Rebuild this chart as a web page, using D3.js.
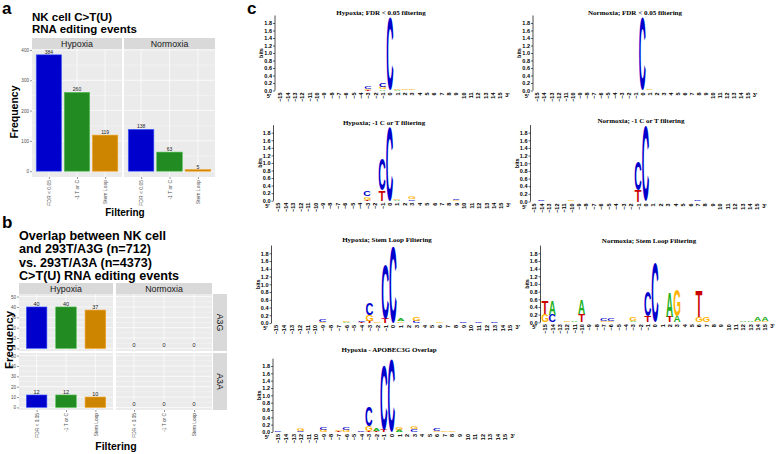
<!DOCTYPE html>
<html><head><meta charset="utf-8">
<script src="https://cdn.jsdelivr.net/npm/d3@7"></script>
<style>body{margin:0;background:#fff}svg{display:block}</style>
</head><body>
<svg id="chart" width="777" height="454"></svg>
<script>
// ---------------- DATA ----------------
const filters = ["FDR < 0.05", "-1 T or C", "Stem Loop"];
const conditions = ["Hypoxia", "Normoxia"];
const nkHypoxia = [384, 260, 119];
const nkNormoxia = [138, 63, 5];
const overlapRows = ["A3G", "A3A"];
const a3gHypoxia = [40, 40, 37];
const a3gNormoxia = [0, 0, 0];
const a3aHypoxia = [12, 12, 10];
const a3aNormoxia = [0, 0, 0];
const nkTicks = [0, 100, 200, 300, 400];
const nkMinor = [50, 150, 250, 350];
const overlapTicks = [0, 10, 20, 30, 40, 50];
const overlapMinor = [5, 15, 25, 35, 45];
const logoPositions = [-15,-14,-13,-12,-11,-10,-9,-8,-7,-6,-5,-4,-3,-2,-1,0,1,2,3,4,5,6,7,8,9,10,11,12,13,14,15];
const bitTicks = [0.0,0.2,0.4,0.6,0.8,1.0,1.2,1.4,1.6,1.8];
const logoTitles = ["Hypoxia; FDR < 0.05 filtering", "Normoxia; FDR < 0.05 filtering",
  "Hypoxia; -1 C or T filtering", "Normoxia; -1 C or T filtering",
  "Hypoxia; Stem Loop Filtering", "Normoxia; Stem Loop Filtering",
  "Hypoxia - APOBEC3G Overlap"];
// [position, base, bits] ; bottom-to-top inside each position
const logoHypFDR = [[-3,"T",0.02],[-3,"G",0.03],[-3,"C",0.07],[-1,"A",0.03],[-1,"G",0.05],[-1,"C",0.1],
  [0,"C",1.93],[1,"A",0.02],[1,"G",0.04],[2,"G",0.02],[3,"G",0.02]];
const logoNorFDR = [[0,"C",1.93],[1,"G",0.02]];
const logoHypCT = [[-3,"T",0.03],[-3,"G",0.08],[-3,"C",0.12],[-1,"T",0.28],[-1,"C",0.84],[0,"C",1.96],
  [1,"A",0.02],[1,"G",0.04],[3,"C",0.04],[3,"G",0.05],[9,"G",0.02],[9,"C",0.03]];
const logoNorCT = [[-14,"C",0.02],[-10,"G",0.02],[-1,"T",0.3],[-1,"C",0.77],[0,"C",1.97],[7,"C",0.02]];
const logoHypSL = [[-9,"G",0.02],[-9,"C",0.05],[-6,"A",0.02],[-6,"G",0.04],[-4,"T",0.02],[-4,"C",0.04],
  [-3,"T",0.05],[-3,"G",0.15],[-3,"C",0.3],[-2,"G",0.02],[-1,"T",0.12],[-1,"C",1.4],[0,"C",1.97],
  [1,"G",0.04],[1,"A",0.07],[3,"C",0.06],[3,"G",0.11],[5,"G",0.01],[6,"G",0.03],[9,"C",0.04],[11,"C",0.02],[13,"C",0.03]];
const logoNorSL = [[-15,"G",0.21],[-15,"T",0.35],[-14,"C",0.19],[-14,"A",0.37],[-12,"G",0.02],[-11,"A",0.02],
  [-10,"T",0.21],[-10,"A",0.37],[-7,"G",0.02],[-7,"C",0.08],[-6,"G",0.02],[-6,"C",0.08],[-3,"A",0.03],[-3,"G",0.1],
  [-1,"T",0.15],[-1,"C",0.65],[0,"C",1.54],[2,"T",0.15],[2,"A",0.65],[3,"A",0.15],[3,"G",0.69],
  [6,"G",0.15],[6,"T",0.67],[7,"G",0.13],[12,"A",0.02],[13,"A",0.02],[14,"G",0.03],[14,"A",0.1],[15,"G",0.03],[15,"A",0.1]];
const logoHypA3G = [[-15,"C",0.02],[-12,"C",0.04],[-12,"G",0.06],[-9,"G",0.05],[-9,"C",0.06],[-7,"T",0.02],[-7,"G",0.04],
  [-6,"G",0.05],[-6,"C",0.06],[-4,"C",0.04],[-3,"T",0.03],[-3,"G",0.13],[-3,"C",0.55],[-2,"T",0.02],[-2,"A",0.06],
  [-1,"T",0.05],[-1,"C",1.75],[0,"C",1.98],[1,"A",0.05],[1,"G",0.06],[3,"C",0.07],[3,"G",0.08],
  [6,"G",0.04],[6,"C",0.05],[7,"G",0.04],[8,"G",0.04]];

// ---------------- STYLE ----------------
const SANS = "'Liberation Sans', Arial, Helvetica, sans-serif";
const SERIF = "'Liberation Serif', 'Times New Roman', serif";
const barFill = {"FDR < 0.05": "#0000CD", "-1 T or C": "#228B22", "Stem Loop": "#CD8500"};
const barStroke = {"FDR < 0.05": "#4060ff", "-1 T or C": "#50c050", "Stem Loop": "#f0a020"};
const baseColor = {A: "#21b021", C: "#0000cc", G: "#ffb300", T: "#cc0000"};

const svg = d3.select("#chart");

function txt(x, y, s, size, opts = {}) {
  const t = svg.append("text").attr("x", x).attr("y", y).text(s)
    .attr("font-family", opts.family || SANS).attr("font-size", size)
    .attr("font-weight", opts.weight || "normal").attr("fill", opts.fill || "#000")
    .attr("text-anchor", opts.anchor || "start");
  if (opts.rotate !== undefined) t.attr("transform", `rotate(${opts.rotate},${x},${y})`);
  return t;
}

// ggplot-like facet panel
function barFacet(o) {
  const x = d3.scalePoint().domain(filters).range([o.x0, o.x1]).padding(0.6);
  const g = svg.append("g");
  g.append("rect").attr("x", o.x0).attr("y", o.yTop).attr("width", o.x1 - o.x0)
    .attr("height", o.yBot - o.yTop).attr("fill", "#EBEBEB");
  g.selectAll(".mi").data(o.minor).join("line")
    .attr("x1", o.x0).attr("x2", o.x1).attr("y1", d => o.y(d)).attr("y2", d => o.y(d))
    .attr("stroke", "#fff").attr("stroke-width", 0.35);
  g.selectAll(".ma").data(o.major).join("line")
    .attr("x1", o.x0).attr("x2", o.x1).attr("y1", d => o.y(d)).attr("y2", d => o.y(d))
    .attr("stroke", "#fff").attr("stroke-width", 0.7);
  g.selectAll(".vx").data(filters).join("line")
    .attr("x1", d => x(d)).attr("x2", d => x(d)).attr("y1", o.yTop).attr("y2", o.yBot)
    .attr("stroke", "#fff").attr("stroke-width", 0.7);
  const bw = x.step() * o.width;
  const data = filters.map((f, i) => ({f, v: o.vals[i]}));
  g.selectAll(".bar").data(data.filter(d => d.v > 0)).join("rect")
    .attr("x", d => x(d.f) - bw / 2).attr("y", d => o.y(d.v))
    .attr("width", bw).attr("height", d => o.y(0) - o.y(d.v))
    .attr("fill", d => barFill[d.f]).attr("stroke", d => barStroke[d.f]).attr("stroke-width", 0.6);
  g.selectAll(".lab").data(data).join("text")
    .attr("x", d => x(d.f)).attr("y", d => o.y(d.v) - 1).text(d => d.v)
    .attr("text-anchor", "middle").attr("font-family", SANS).attr("font-size", o.labSize).attr("fill", "#222");
  return x;
}

function yAxis(y, x0, ticks, size) {
  const ax = svg.append("g").attr("transform", `translate(${x0},0)`)
    .call(d3.axisLeft(y).tickValues(ticks).tickSize(2).tickPadding(1));
  ax.select(".domain").remove();
  ax.selectAll("line").attr("stroke", "#333").attr("stroke-width", 0.5);
  ax.selectAll("text").attr("font-family", SANS).attr("font-size", size).attr("fill", "#4d4d4d");
}
function xAxis(x, yb, size) {
  const ax = svg.append("g").attr("transform", `translate(0,${yb})`)
    .call(d3.axisBottom(x).tickSize(2).tickPadding(1));
  ax.select(".domain").remove();
  ax.selectAll("line").attr("stroke", "#333").attr("stroke-width", 0.5);
  ax.selectAll("text").attr("font-family", SANS).attr("font-size", size).attr("fill", "#4d4d4d")
    .attr("transform", "rotate(-90)").attr("text-anchor", "end")
    .attr("x", -3).attr("y", 0).attr("dy", "0.35em");
}
function strip(x0, y0, w, h, label, size, rot) {
  svg.append("rect").attr("x", x0).attr("y", y0).attr("width", w).attr("height", h).attr("fill", "#D9D9D9");
  const cx = x0 + w / 2, cy = y0 + h / 2;
  const t = svg.append("text").attr("x", cx).attr("y", cy).text(label)
    .attr("font-family", SANS).attr("font-size", size).attr("fill", "#1a1a1a")
    .attr("text-anchor", "middle").attr("dominant-baseline", "central");
  if (rot) t.attr("transform", `rotate(${rot},${cx},${cy})`);
}

// ---------------- PANEL a ----------------
txt(2, 14, "a", 17, {weight: "bold"});
txt(32, 21, "NK cell C>T(U)", 11.5, {weight: "bold"});
txt(32, 33, "RNA editing events", 11.5, {weight: "bold"});
{
  const yTop = 49, yBot = 177;
  const y = d3.scaleLinear().domain([-19.2, 403.2]).range([yBot, yTop]);
  const facets = [[32, 122, nkHypoxia], [124, 215, nkNormoxia]];
  facets.forEach(([x0, x1, vals], i) => {
    strip(x0, 38, x1 - x0, 11, conditions[i], 8.8);
    const x = barFacet({x0, x1, yTop, yBot, y, vals, width: 0.9, major: nkTicks, minor: nkMinor, labSize: 5});
    xAxis(x, yBot, 5);
  });
  yAxis(y, 32, nkTicks, 4.6);
  txt(125, 216, "Filtering", 10, {weight: "bold", anchor: "middle"});
  txt(18, 112, "Frequency", 10.5, {weight: "bold", anchor: "middle", rotate: -90});
}

// ---------------- PANEL b ----------------
txt(2, 228, "b", 17, {weight: "bold"});
["Overlap between NK cell", "and 293T/A3G (n=712)", "vs. 293T/A3A (n=4373)", "C>T(U) RNA editing events"]
  .forEach((s, i) => txt(19, 239.5 + i * 13.5, s, 12.6, {weight: "bold"}));
{
  const facetX = [[19, 113], [116, 212]];
  const rows = [[294, 351, [a3gHypoxia, a3gNormoxia]], [353, 410, [a3aHypoxia, a3aNormoxia]]];
  facetX.forEach(([x0, x1], i) => strip(x0, 283, x1 - x0, 11, conditions[i], 8.8));
  rows.forEach(([yTop, yBot, vals], r) => {
    const y = d3.scaleLinear().domain([-2.5, 52.5]).range([yBot, yTop]);
    facetX.forEach(([x0, x1], i) => {
      const x = barFacet({x0, x1, yTop, yBot, y, vals: vals[i], width: 0.7, major: overlapTicks, minor: overlapMinor, labSize: 5.5});
      if (r === 1) xAxis(x, yBot, 4.8);
    });
    yAxis(y, 19, overlapTicks, 4.6);
    strip(213, yTop, 14, yBot - yTop, overlapRows[r], 8.8, 90);
  });
  txt(116, 450, "Filtering", 10.5, {weight: "bold", anchor: "middle"});
  txt(13, 340, "Frequency", 11.5, {weight: "bold", anchor: "middle", rotate: -90});
}

// ---------------- PANEL c (sequence logos) ----------------
txt(247, 14, "c", 17, {weight: "bold"});
const ctx = document.createElement("canvas").getContext("2d");
ctx.font = "bold 100px 'Liberation Sans'";
const glyph = {};
["A", "C", "G", "T"].forEach(b => {
  const m = ctx.measureText(b);
  glyph[b] = {L: m.actualBoundingBoxLeft || 0, R: m.actualBoundingBoxRight || 70,
              A: m.actualBoundingBoxAscent || 72, D: m.actualBoundingBoxDescent || 0};
});

const logoLayout = [
  {x0: 280, x15: 500, axis: 275, y0: 90.5, y18: 23, tx: 381, ty: 15},
  {x0: 537, x15: 748, axis: 533, y0: 90.5, y18: 23, tx: 635, ty: 15},
  {x0: 278, x15: 501, axis: 273.5, y0: 200.7, y18: 132.7, tx: 384, ty: 125},
  {x0: 534, x15: 757, axis: 530.5, y0: 201.5, y18: 132.7, tx: 641, ty: 123},
  {x0: 276, x15: 510, axis: 271.5, y0: 323, y18: 253.3, tx: 387, ty: 242},
  {x0: 545, x15: 765, axis: 540.5, y0: 322.3, y18: 253.3, tx: 649, ty: 243},
  {x0: 278, x15: 505, axis: 273, y0: 432, y18: 366, tx: 389, ty: 352}
];
const logoData = [logoHypFDR, logoNorFDR, logoHypCT, logoNorCT, logoHypSL, logoNorSL, logoHypA3G];

function drawLogo(L, data, title) {
  const x = d3.scaleLinear().domain([-15, 15]).range([L.x0, L.x15]);
  const y = d3.scaleLinear().domain([0, 1.8]).range([L.y0, L.y18]);
  const step = x(1) - x(0);
  const g = svg.append("g");
  g.append("text").attr("x", L.tx).attr("y", L.ty).text(title).attr("text-anchor", "middle")
    .attr("font-family", SERIF).attr("font-weight", "bold").attr("font-size", 7);
  const ay = g.append("g").attr("transform", `translate(${L.axis},0)`)
    .call(d3.axisLeft(y).tickValues(bitTicks).tickFormat(d3.format(".1f")).tickSize(2).tickPadding(1));
  ay.select(".domain").remove();
  ay.selectAll("line").attr("stroke", "#000").attr("stroke-width", 0.6);
  ay.selectAll("text").attr("font-family", SANS).attr("font-weight", "bold").attr("font-size", 5.5).attr("fill", "#000");
  g.append("line").attr("x1", L.axis).attr("x2", L.axis).attr("y1", y(0)).attr("y2", y(2.0))
    .attr("stroke", "#000").attr("stroke-width", 0.7);
  g.append("text").attr("transform", `translate(${L.axis - 12},${y(1.0)}) rotate(-90)`).text("bits")
    .attr("text-anchor", "middle").attr("font-family", SANS).attr("font-weight", "bold").attr("font-size", 5.5);
  const ax = g.append("g").attr("transform", `translate(0,${L.y0})`)
    .call(d3.axisBottom(x).tickValues(logoPositions).tickSize(0).tickPadding(2));
  ax.select(".domain").remove();
  ax.selectAll("text").attr("font-family", SANS).attr("font-weight", "bold").attr("font-size", 5.5).attr("fill", "#000")
    .attr("transform", "rotate(-90)").attr("text-anchor", "end").attr("x", -2).attr("y", 0).attr("dy", "0.35em");
  g.append("text").attr("x", L.axis - 6).attr("y", L.y0 + 7).text("5'").attr("text-anchor", "middle")
    .attr("font-family", SANS).attr("font-weight", "bold").attr("font-size", 5.5);
  g.append("text").attr("x", x(15) + step).attr("y", L.y0 + 6).text("3'").attr("text-anchor", "middle")
    .attr("font-family", SANS).attr("font-weight", "bold").attr("font-size", 5.5);
  const cw = step * 0.92;
  const stacks = d3.group(data, d => d[0]);
  stacks.forEach((arr) => {
    let cum = 0;
    arr.forEach(([p, b, h]) => {
      const yb = y(cum), yt = y(cum + h);
      cum += h;
      const gm = glyph[b];
      const sx = cw / (gm.L + gm.R), sy = (yb - yt) / (gm.A + gm.D);
      g.append("text").text(b).attr("font-family", SANS).attr("font-weight", "bold").attr("font-size", 100)
        .attr("fill", baseColor[b])
        .attr("transform", `translate(${x(p) - cw / 2},${yb}) scale(${sx},${sy}) translate(${gm.L},${-gm.D})`);
    });
  });
}
logoLayout.forEach((L, i) => drawLogo(L, logoData[i], logoTitles[i]));
</script>
</body></html>
